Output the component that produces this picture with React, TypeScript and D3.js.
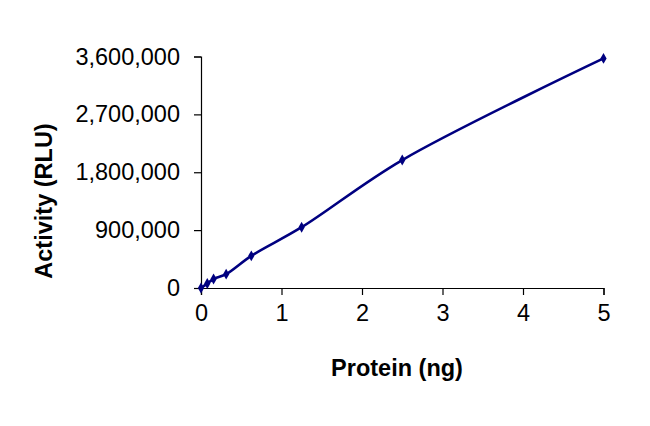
import React, { useRef, useEffect } from 'react';
import * as d3 from 'd3';

// protein amount (ng) and measured activity (RLU)
const protein = [0, 0.078, 0.156, 0.3125, 0.625, 1.25, 2.5, 5];
const activity = [0, 70000, 140000, 215000, 500000, 945000, 1990000, 3570000];

const xTicks = [0, 1, 2, 3, 4, 5];
const yTicks = [0, 900000, 1800000, 2700000, 3600000];

const xTitle = 'Protein (ng)';
const yTitle = 'Activity (RLU)';

const width = 650;
const height = 426;
const font = '"Liberation Sans", Arial, sans-serif';
const navy = '#000080';

const Chart: React.FC = () => {
    const svgRef = useRef<SVGSVGElement>(null);

    useEffect(() => {
        if (!svgRef.current) return;
        const svg = d3.select(svgRef.current);
        svg.selectAll('*').remove();

        const x = d3.scaleLinear().domain([0, 5]).range([201, 603.5]);
        const y = d3.scaleLinear().domain([0, 3600000]).range([288, 56.5]);

        // y axis
        const yAxis = svg.append('g')
            .attr('transform', `translate(${x(0)},0)`)
            .call(d3.axisLeft(y).tickValues(yTicks).tickFormat(d3.format(',') as any).tickSize(7).tickPadding(14));
        yAxis.selectAll('text')
            .attr('font-family', font)
            .attr('font-size', 23.5)
            .attr('fill', '#000');

        // x axis
        const xAxis = svg.append('g')
            .attr('transform', `translate(0,${y(0)})`)
            .call(d3.axisBottom(x).tickValues(xTicks).tickFormat(d3.format('d') as any).tickSize(7).tickPadding(9));
        xAxis.selectAll('text')
            .attr('font-family', font)
            .attr('font-size', 23.5)
            .attr('fill', '#000');

        svg.selectAll('.domain, .tick line')
            .attr('stroke', '#000')
            .attr('stroke-width', 1.2);

        const points = protein.map((p, i) => [p, activity[i]] as [number, number]);

        const line = d3.line<[number, number]>()
            .x(d => x(d[0]))
            .y(d => y(d[1]))
            .curve(d3.curveCatmullRom.alpha(0.5));

        svg.append('path')
            .datum(points)
            .attr('d', line)
            .attr('fill', 'none')
            .attr('stroke', navy)
            .attr('stroke-width', 2.6);

        const diamond = d3.symbol().type(d3.symbolDiamond).size(34);
        svg.append('g')
            .selectAll('path')
            .data(points)
            .join('path')
            .attr('d', diamond)
            .attr('transform', d => `translate(${x(d[0])},${y(d[1])})`)
            .attr('fill', navy);

        // axis titles
        svg.append('text')
            .attr('x', 397)
            .attr('y', 376)
            .attr('text-anchor', 'middle')
            .attr('font-family', font)
            .attr('font-weight', 'bold')
            .attr('font-size', 23.5)
            .text(xTitle);

        svg.append('text')
            .attr('transform', `translate(52,201) rotate(-90)`)
            .attr('text-anchor', 'middle')
            .attr('font-family', font)
            .attr('font-weight', 'bold')
            .attr('font-size', 23.5)
            .text(yTitle);
    }, []);

    return (
        <svg
            ref={svgRef}
            width={width}
            height={height}
            style={{ position: 'absolute', left: 0, top: 0, background: '#fff' }}
        />
    );
};

export default function App() {
    return <Chart />;
}
